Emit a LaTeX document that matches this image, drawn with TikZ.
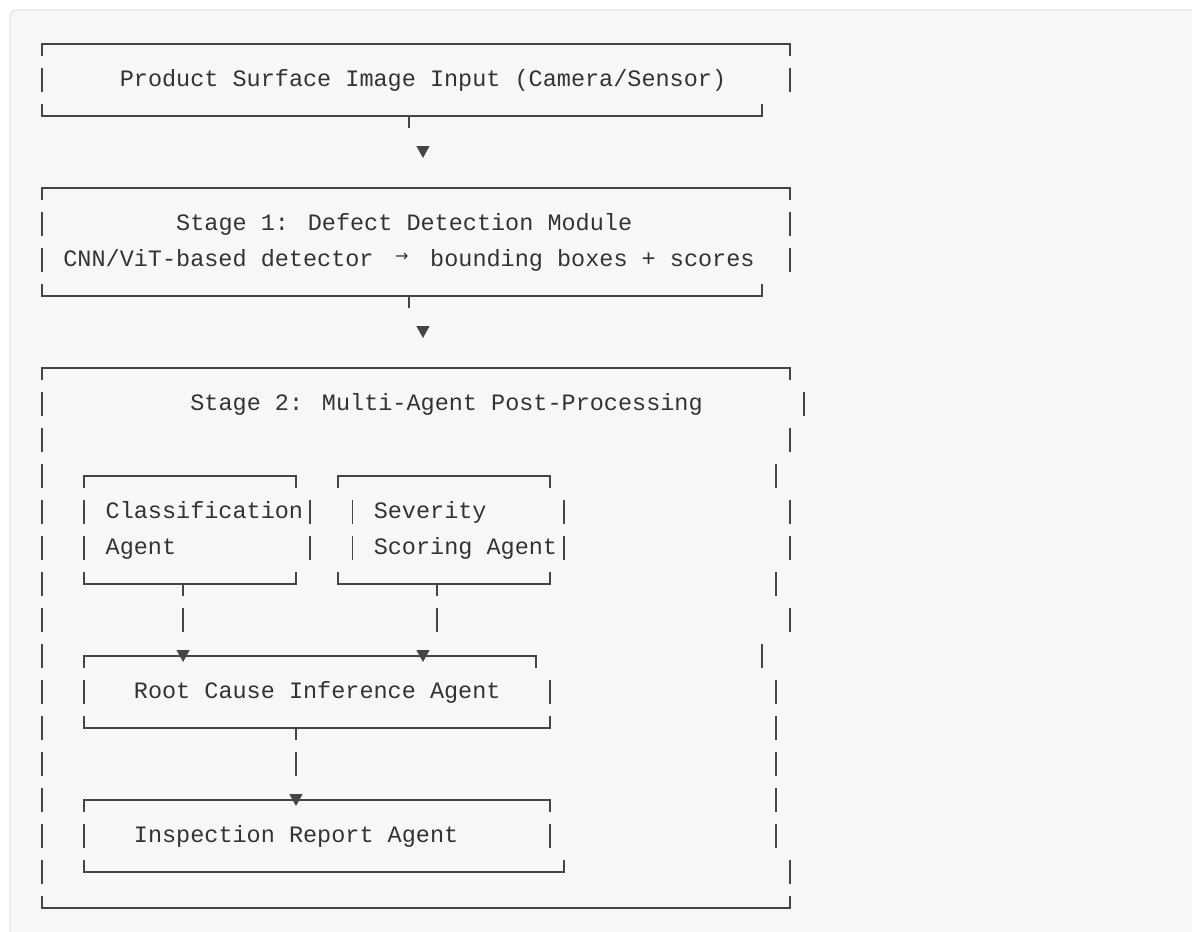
\documentclass[tikz,border=0pt]{standalone}
\usepackage{fontspec}
\newfontfamily\monofam{Liberation Mono}
\newfontfamily\symfam{DejaVu Sans}
\definecolor{panelc}{HTML}{F7F7F7}
\definecolor{panelb}{HTML}{E4E4E4}
\definecolor{linec}{HTML}{454545}
\definecolor{textc}{HTML}{333333}
\tikzset{
  bx/.style={draw=linec, line width=1.8pt},
  lbl/.style={anchor=base west, inner sep=0pt, text=textc, font=\monofam\fontsize{23.5}{28}\selectfont},
  sym/.style={anchor=center, inner sep=0pt, text=textc, font=\symfam\fontsize{16}{16}\selectfont},
}
% column c, row r: x = c (14.11pt per column), y = r (36pt per row, downward)
\newcommand\Vbar[2]{\draw[bx] (#1,#2-0.3333) -- (#1,#2+0.3333);}
\newcommand\TopB[3]{\draw[bx] (#1,#3+0.3333) -- (#1,#3) -- (#2,#3) -- (#2,#3+0.3333);}
\newcommand\BotB[3]{\draw[bx] (#1,#3-0.3333) -- (#1,#3) -- (#2,#3) -- (#2,#3-0.3333);}
\newcommand\TeeD[2]{\draw[bx] (#1,#2) -- (#1,#2+0.3333);}
\newcommand\DownTri[2]{\fill[linec] (#1-0.47,#2-0.1667) -- (#1+0.47,#2-0.1667) -- (#1,#2+0.1667) -- cycle;}
\begin{document}
\begin{tikzpicture}[x=14.11pt, y=-36pt]
\useasboundingbox[fill=white] (-2.97661,-0.22222) rectangle (81.5025,25.66667);
\draw[fill=panelc, draw=panelb, line width=1.2pt, rounded corners=7pt] (-2.2679,0.0556) rectangle (83,27);

% ---- Box 1: input
\TopB{0}{53}{1}
\Vbar{0}{2}\Vbar{53}{2}
\node[lbl] (input) at (5.5,2.186) {Product Surface Image Input (Camera/Sensor)};
\BotB{0}{51}{3}\TeeD{26}{3}
\DownTri{27}{4}

% ---- Box 2: stage 1
\TopB{0}{53}{5}
\Vbar{0}{6}\Vbar{53}{6}
\Vbar{0}{7}\Vbar{53}{7}
\node[lbl] (s1) at (9.5,6.186) {Stage 1: Defect Detection Module};
\node[lbl] (s1a) at (1.5,7.186) {CNN/ViT-based detector};
\node[sym] (arr) at (25.5,6.92) {→};
\node[lbl] (s1b) at (27.5,7.186) {bounding boxes + scores};
\BotB{0}{51}{8}\TeeD{26}{8}
\DownTri{27}{9}

% ---- Box 3: stage 2 outer
\TopB{0}{53}{10}
\Vbar{0}{11}\Vbar{54}{11}
\node[lbl] (s2) at (10.5,11.186) {Stage 2: Multi-Agent Post-Processing};
\Vbar{0}{12}\Vbar{53}{12}
\Vbar{0}{13}\Vbar{52}{13}
\TopB{3}{18}{13}
\TopB{21}{36}{13}
\Vbar{0}{14}\Vbar{3}{14}\Vbar{19}{14}\Vbar{22}{14}\Vbar{37}{14}\Vbar{53}{14}
\node[lbl] (cls) at (4.5,14.186) {Classification};
\node[lbl] (sev) at (23.5,14.186) {Severity};
\Vbar{0}{15}\Vbar{3}{15}\Vbar{19}{15}\Vbar{22}{15}\Vbar{37}{15}\Vbar{53}{15}
\node[lbl] (cls2) at (4.5,15.186) {Agent};
\node[lbl] (sev2) at (23.5,15.186) {Scoring Agent};
\Vbar{0}{16}\Vbar{52}{16}
\BotB{3}{18}{16}\TeeD{10}{16}
\BotB{21}{36}{16}\TeeD{28}{16}
\Vbar{0}{17}\Vbar{10}{17}\Vbar{28}{17}\Vbar{53}{17}
% root cause box
\Vbar{0}{18}\Vbar{51}{18}
\TopB{3}{35}{18}
\DownTri{10}{18}\DownTri{27}{18}
\Vbar{0}{19}\Vbar{3}{19}\Vbar{36}{19}\Vbar{52}{19}
\node[lbl] (root) at (6.5,19.186) {Root Cause Inference Agent};
\Vbar{0}{20}\Vbar{52}{20}
\BotB{3}{36}{20}\TeeD{18}{20}
\Vbar{0}{21}\Vbar{18}{21}\Vbar{52}{21}
% report box
\Vbar{0}{22}\Vbar{52}{22}
\TopB{3}{36}{22}
\DownTri{18}{22}
\Vbar{0}{23}\Vbar{3}{23}\Vbar{36}{23}\Vbar{52}{23}
\node[lbl] (rep) at (6.5,23.186) {Inspection Report Agent};
\Vbar{0}{24}\Vbar{53}{24}
\BotB{3}{37}{24}
\BotB{0}{53}{25}
\end{tikzpicture}
\end{document}
